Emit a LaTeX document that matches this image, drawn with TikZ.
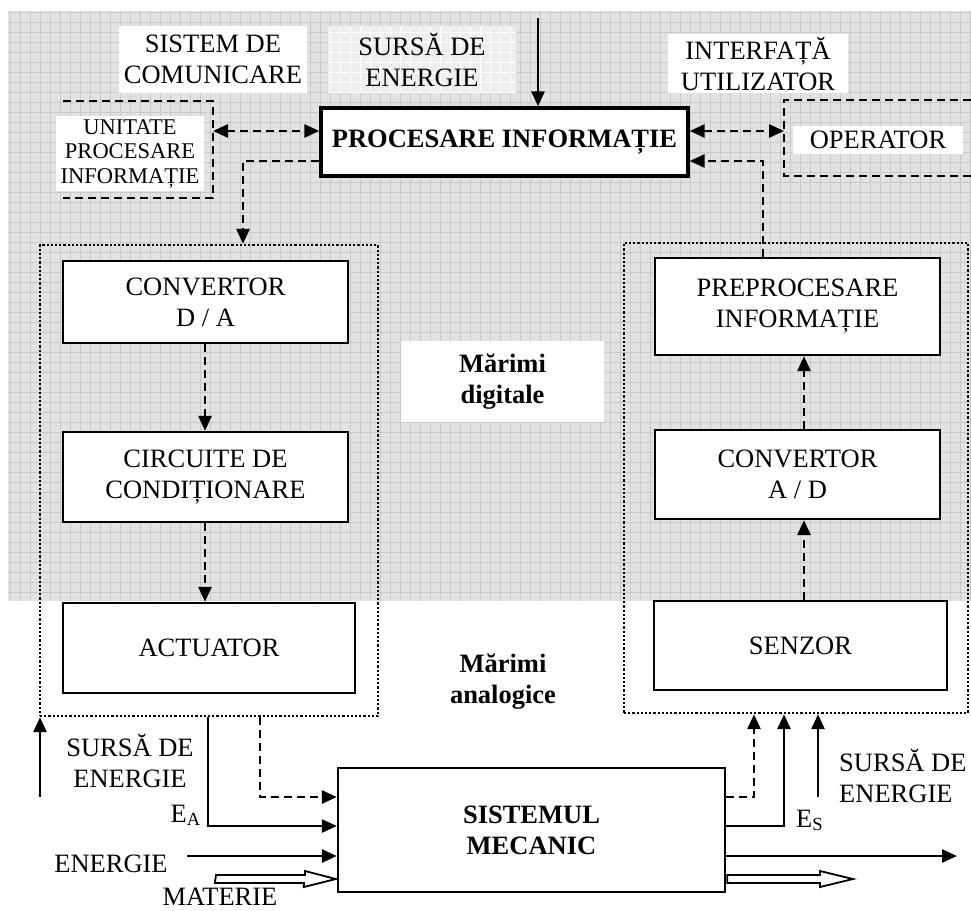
\documentclass[tikz,border=0pt]{standalone}
\usepackage{fontspec}
\setmainfont{Liberation Serif}
\usetikzlibrary{arrows.meta,calc}
\definecolor{bggray}{HTML}{E2E2E2}
\definecolor{gridgray}{HTML}{C9C9C9}
\definecolor{lightbox}{HTML}{EEEEEE}
\begin{document}
\begin{tikzpicture}[x=1pt,y=-1pt,
  every node/.style={font=\fontsize{26.5}{31}\selectfont, align=center, inner sep=0pt},
  bf/.style={font=\fontsize{26.5}{31}\selectfont\bfseries},
  blk/.style={draw, line width=2.3pt, fill=white},
  wbox/.style={fill=white},
  dsh/.style={line width=2.8pt, dash pattern=on 8pt off 5pt},
  dotbox/.style={draw, line width=2.4pt, dash pattern=on 2.2pt off 2pt},
  sol/.style={line width=2.8pt},
  tip/.style={-{Triangle[length=15pt,width=13pt]}},
  btip/.style={{Triangle[length=15pt,width=13pt]}-{Triangle[length=15pt,width=13pt]}},
  hollow/.style={line width=1.8pt, fill=white, line join=miter},
]
\useasboundingbox (0,0) rectangle (971,910);
% background grid region
\fill[bggray] (8,11) rectangle (971,601);
\foreach \x in {10,20,...,970} \draw[gridgray, line width=0.8pt] (\x,11) -- (\x,601);
\foreach \y in {12,22,...,592} \draw[gridgray, line width=0.8pt] (8,\y) -- (971,\y);
% light box behind top "SURSA DE ENERGIE"
\fill[lightbox] (328,26) rectangle (516,93);
\begin{scope}
  \clip (328,26) rectangle (516,93);
  \foreach \x in {330,340,...,510} \draw[white, line width=0.8pt] (\x,26) -- (\x,93);
  \foreach \y in {32,42,...,92} \draw[white, line width=0.8pt] (328,\y) -- (516,\y);
\end{scope}

% top labels
\node[wbox, minimum width=188pt, minimum height=67pt] (sc) at (213,59.5) {SISTEM DE\\COMUNICARE};
\node (se) at (422,59.5) {SURSĂ DE\\ENERGIE};
\node[wbox, minimum width=180pt, minimum height=59pt] (iu) at (758,63.5) {INTERFAȚĂ\\UTILIZATOR};

% central processing
\node[draw, fill=white, line width=3.4pt, minimum width=367pt, minimum height=68pt, bf] (proc) at (504.5,142) {PROCESARE INFORMAȚIE};
\coordinate (topin) at (538,18);
\draw[sol,tip] (topin) -- (topin |- proc.north);

% unitate procesare informatie
\coordinate (u1) at (63,101);
\coordinate (u2) at (213,101);
\coordinate (u3) at (213,198);
\coordinate (u4) at (63,198);
\draw[dsh] (u1) -- (u2) -- (u3) -- (u4);
\node[wbox, minimum width=148pt, minimum height=75pt, font=\fontsize{22.5}{24.5}\selectfont] (upi) at (130,153.5) {UNITATE\\PROCESARE\\INFORMAȚIE};
\coordinate (ua) at (213,131);
\draw[dsh,btip] (ua) -- (ua -| proc.west);

% operator
\coordinate (o1) at (971,100);
\coordinate (o2) at (784,100);
\coordinate (o3) at (784,176);
\coordinate (o4) at (971,176);
\draw[dsh] (o1) -- (o2) -- (o3) -- (o4);
\node[wbox, minimum width=170pt, minimum height=28pt] (op) at (878,140) {OPERATOR};
\coordinate (oa) at (784,131);
\draw[dsh,btip] (oa -| proc.east) -- (oa);

% dotted group boxes
\node[dotbox, minimum width=338pt, minimum height=471pt] (lbox) at (209,480.5) {};
\node[dotbox, minimum width=344pt, minimum height=470pt] (rbox) at (796,478) {};

% left column
\node[blk, minimum width=285pt, minimum height=82pt] (da) at (205.5,302) {CONVERTOR\\D / A};
\node[blk, minimum width=285pt, minimum height=90pt] (circ) at (205.5,477) {CIRCUITE DE\\CONDIȚIONARE};
\node[blk, minimum width=292pt, minimum height=90pt] (act) at (209,648) {ACTUATOR};
\coordinate (xl) at (205,0);
\draw[dsh,tip] (da.south -| xl) -- (circ.north -| xl);
\draw[dsh,tip] (circ.south -| xl) -- (act.north -| xl);

% right column
\node[blk, minimum width=285pt, minimum height=97pt] (pre) at (797.5,306.5) {PREPROCESARE\\INFORMAȚIE};
\node[blk, minimum width=285pt, minimum height=89pt] (ad) at (797.5,474.5) {CONVERTOR\\A / D};
\node[blk, minimum width=293pt, minimum height=89pt] (sen) at (800.5,645.5) {SENZOR};
\coordinate (xr) at (804,0);
\draw[dsh,tip] (ad.north -| xr) -- (pre.south -| xr);
\draw[dsh,tip] (sen.north -| xr) -- (ad.south -| xr);

% links to processing
\coordinate (dl) at (243,161);
\draw[dsh,tip] (dl -| proc.west) -- (dl) -- (dl |- lbox.north);
\coordinate (pr) at (763,161);
\draw[dsh,tip] (pr |- pre.north) -- (pr) -- (pr -| proc.east);

% quantity labels
\node[wbox, bf, minimum width=203pt, minimum height=81pt] (md) at (502.5,381.5) {Mărimi\\digitale};
\node[bf] (ma) at (503,682) {Mărimi\\analogice};

% mechanical system
\node[draw, line width=2.3pt, minimum width=387pt, minimum height=124pt, bf] (sm) at (531.5,830) {SISTEMUL\\MECANIC};

% left bottom
\coordinate (sl) at (40,797);
\draw[sol,tip] (sl) -- (sl |- lbox.south);
\node (sel) at (130,761) {SURSĂ DE\\ENERGIE};
\coordinate (ea) at (208,826);
\draw[sol,tip] (ea |- lbox.south) -- (ea) -- (ea -| sm.west);
\node[anchor=base east] (eal) at (201,822) {E\textsubscript{A}};
\coordinate (dd) at (260,797);
\draw[dsh,tip] (dd |- lbox.south) -- (dd) -- (dd -| sm.west);
\node (enl) at (111,864) {ENERGIE};
\coordinate (en) at (187,856);
\draw[sol,tip] (en) -- (en -| sm.west);
\coordinate (mi) at (216,879);
\draw[hollow] (mi) ++(0,-4) -- ++(89,0) -- ++(0,-4) -- ($(sm.west |- mi)+(-1,0)$) -- ++(-32,8) -- ++(0,-4) -- ++(-89,0) -- cycle;
\node[anchor=base] (mat) at (220,905) {MATERIE};

% right bottom
\coordinate (sd) at (754,797);
\draw[dsh,tip] (sm.east |- sd) -- (sd) -- (sd |- rbox.south);
\coordinate (es) at (784,826);
\draw[sol,tip] (sm.east |- es) -- (es) -- (es |- rbox.south);
\node[anchor=base west] (esl) at (796,827) {E\textsubscript{S}};
\coordinate (ss) at (818,797);
\draw[sol,tip] (ss) -- (ss |- rbox.south);
\node[align=left, anchor=west] (ser) at (839,776) {SURSĂ DE\\ENERGIE};
\coordinate (eo) at (957,856);
\draw[sol,tip] (sm.east |- eo) -- (eo);
\coordinate (mo) at (853,879);
\draw[hollow] (sm.east |- mo) ++(1,-4) -- (820,875) -- (820,871) -- (mo) -- (820,887) -- (820,883) -- ($(sm.east |- mo)+(1,4)$) -- cycle;
\end{tikzpicture}
\end{document}
